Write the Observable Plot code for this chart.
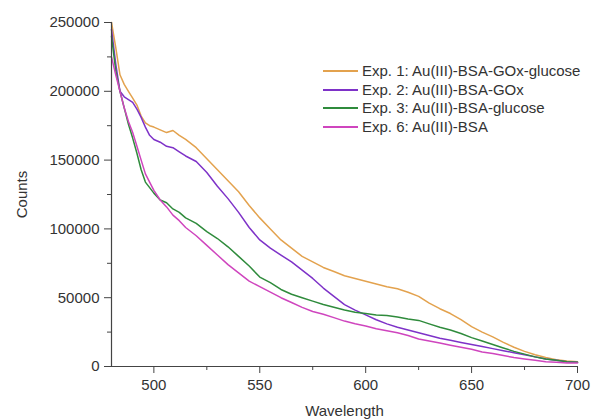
<!DOCTYPE html>
<html>
<head>
<meta charset="utf-8">
<script src="https://cdn.jsdelivr.net/npm/d3@7"></script>
<script src="https://cdn.jsdelivr.net/npm/@observablehq/plot@0.6"></script>
<style>
  html, body { margin: 0; padding: 0; background: #fff; }
  #wrap { position: relative; width: 592px; height: 419px; font-family: "Liberation Sans", Arial, sans-serif; }
  #legend { position: absolute; left: 323px; top: 62px; font-size: 15px; color: #333; line-height: 18.5px; }
  #legend .row { display: flex; align-items: center; white-space: nowrap; }
  #legend .sw { width: 35px; height: 2px; margin-right: 4px; }
</style>
</head>
<body>
<div id="wrap"><div id="legend"></div></div>
<script>
const wavelength = [480,482,484,486,488,490,492,494,496,498,500,503,506,509,512,515,520,525,530,535,540,545,550,555,560,565,570,575,580,585,590,595,600,605,610,615,620,625,630,635,640,645,650,655,660,665,670,675,680,685,690,695,700];
const exp1 = [250000,232000,212000,205000,200000,195000,190000,182000,177000,175000,174000,172000,170000,171500,168000,165000,159000,151000,143000,135000,127000,117000,108000,100000,92000,86000,80000,76000,72000,69000,66000,64000,62000,60000,58000,56500,54000,51000,46000,42000,38500,34000,29000,25000,21500,17500,14000,11000,8500,6500,5000,4000,3500];
const exp2 = [245000,220000,200000,196000,194000,192000,187000,181000,174000,168000,165000,163000,160000,159000,156000,153000,149000,141000,131000,122000,112000,101000,92000,86000,81000,76000,70000,64000,57000,51000,45000,41000,37500,34000,31000,28500,26500,24500,22500,20500,19000,17500,16000,14500,13000,11500,10000,8500,7000,5500,4500,3500,3000];
const exp3 = [240000,215000,200000,188000,176000,166000,155000,143000,134000,130000,126000,121000,119000,114500,112000,108000,104000,98000,93000,87000,80000,73000,65000,61000,56000,52500,50000,47500,45000,43000,41000,39500,38500,37500,37000,36000,34500,33500,31000,28500,26500,24000,21000,18500,16000,13500,11000,9000,7000,5500,4500,3500,3000];
const exp6 = [225000,212000,200000,188000,178000,170000,160000,150000,140000,134000,128000,121000,116000,110000,106000,101000,95000,88000,81000,74000,68000,62000,58000,54000,50000,46500,43000,40000,38000,35500,33000,31000,29500,27500,26000,24500,22500,20000,18500,17000,15500,14000,12500,10500,9500,8000,6500,5500,4500,3500,3000,2500,2500];

const seriesNames = ["Exp. 1: Au(III)-BSA-GOx-glucose","Exp. 2: Au(III)-BSA-GOx","Exp. 3: Au(III)-BSA-glucose","Exp. 6: Au(III)-BSA"];
const seriesColors = ["#E3A24E","#7E32C8","#2F8B3C","#CF45BE"];
const seriesValues = [exp1, exp2, exp3, exp6];

const xTicks = [500,550,600,650,700];
const xMinorTicks = [525,575,625,675];
const yTicks = [0,50000,100000,150000,200000,250000];
const yMinorTicks = [25000,75000,125000,175000,225000];

const data = seriesNames.flatMap((name, i) =>
  wavelength.map((w, j) => ({series: name, wavelength: w, counts: seriesValues[i][j]})));

const axisColor = "#444";
const chart = Plot.plot({
  width: 592, height: 419,
  marginLeft: 111, marginRight: 15, marginTop: 22, marginBottom: 53,
  style: {fontFamily: "'Liberation Sans', Arial, sans-serif", fontSize: "15px", color: "#333", background: "transparent"},
  x: {domain: [480, 700]},
  y: {domain: [0, 250000]},
  color: {domain: seriesNames, range: seriesColors},
  marks: [
    Plot.line(data, {x: "wavelength", y: "counts", z: "series", stroke: "series", strokeWidth: 1.5}),
    Plot.ruleX([480], {stroke: axisColor, strokeWidth: 1.2}),
    Plot.ruleY([0], {stroke: axisColor, strokeWidth: 1.2}),
    Plot.axisY({ticks: yTicks, tickSize: 7, tickPadding: 5, tickFormat: d3.format("d"), stroke: axisColor,
      label: "Counts", labelAnchor: "center", labelArrow: "none", labelOffset: 95}),
    Plot.axisY({ticks: yMinorTicks, tickSize: 4, tickFormat: () => "", label: null, stroke: axisColor}),
    Plot.axisX({ticks: xTicks, tickSize: 7, tickPadding: 6, tickFormat: d3.format("d"), stroke: axisColor,
      label: "Wavelength", labelAnchor: "center", labelArrow: "none", labelOffset: 49}),
    Plot.axisX({ticks: xMinorTicks, tickSize: 4, tickFormat: () => "", label: null, stroke: axisColor})
  ]
});
document.getElementById("wrap").prepend(chart);

const legend = document.getElementById("legend");
seriesNames.forEach((name, i) => {
  const row = document.createElement("div");
  row.className = "row";
  const sw = document.createElement("div");
  sw.className = "sw";
  sw.style.background = seriesColors[i];
  const t = document.createElement("span");
  t.textContent = name;
  row.append(sw, t);
  legend.append(row);
});
</script>
</body>
</html>
